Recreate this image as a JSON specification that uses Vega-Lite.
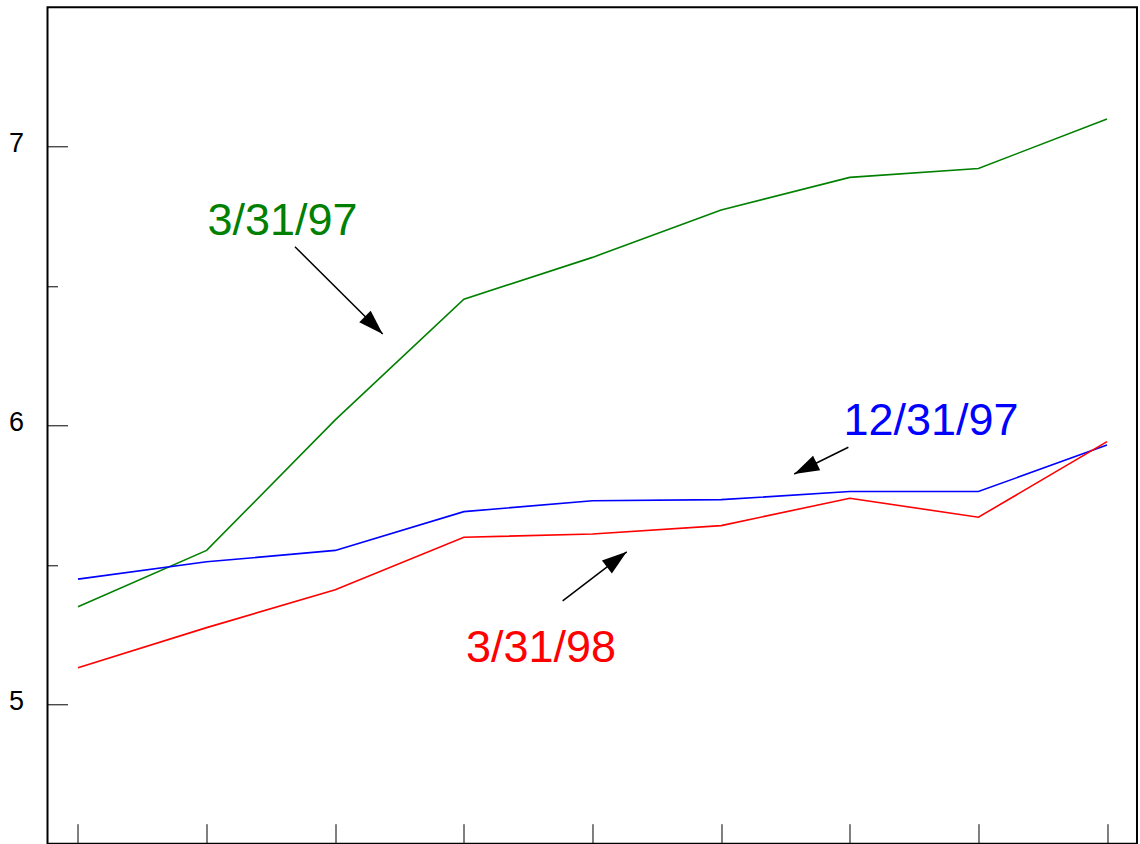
{
  "$schema": "https://vega.github.io/schema/vega-lite/v6.json",
  "autosize": {"type": "none"},
  "padding": {"left": 47.5, "top": 7.3, "right": 3, "bottom": 0},
  "width": 1089.5,
  "height": 836.4,
  "background": "white",
  "config": {
    "view": {"stroke": "black", "strokeWidth": 2},
    "font": "Liberation Sans"
  },
  "datasets": {
    "series": [
      {"i": 0, "v": 5.350, "s": "3/31/97"},
      {"i": 1, "v": 5.552, "s": "3/31/97"},
      {"i": 2, "v": 6.020, "s": "3/31/97"},
      {"i": 3, "v": 6.453, "s": "3/31/97"},
      {"i": 4, "v": 6.603, "s": "3/31/97"},
      {"i": 5, "v": 6.773, "s": "3/31/97"},
      {"i": 6, "v": 6.890, "s": "3/31/97"},
      {"i": 7, "v": 6.922, "s": "3/31/97"},
      {"i": 8, "v": 7.099, "s": "3/31/97"},
      {"i": 0, "v": 5.449, "s": "12/31/97"},
      {"i": 1, "v": 5.511, "s": "12/31/97"},
      {"i": 2, "v": 5.552, "s": "12/31/97"},
      {"i": 3, "v": 5.691, "s": "12/31/97"},
      {"i": 4, "v": 5.730, "s": "12/31/97"},
      {"i": 5, "v": 5.734, "s": "12/31/97"},
      {"i": 6, "v": 5.763, "s": "12/31/97"},
      {"i": 7, "v": 5.763, "s": "12/31/97"},
      {"i": 8, "v": 5.930, "s": "12/31/97"},
      {"i": 0, "v": 5.131, "s": "3/31/98"},
      {"i": 1, "v": 5.275, "s": "3/31/98"},
      {"i": 2, "v": 5.411, "s": "3/31/98"},
      {"i": 3, "v": 5.599, "s": "3/31/98"},
      {"i": 4, "v": 5.611, "s": "3/31/98"},
      {"i": 5, "v": 5.641, "s": "3/31/98"},
      {"i": 6, "v": 5.739, "s": "3/31/98"},
      {"i": 7, "v": 5.671, "s": "3/31/98"},
      {"i": 8, "v": 5.942, "s": "3/31/98"}
    ],
    "arrows": [
      {"s": "3/31/97", "x": 1.687, "y": 6.641, "x2": 2.369, "y2": 6.328},
      {"s": "12/31/97", "x": 5.989, "y": 5.922, "x2": 5.568, "y2": 5.826},
      {"s": "3/31/98", "x": 3.768, "y": 5.371, "x2": 4.266, "y2": 5.547}
    ],
    "labels": [
      {"s": "3/31/97", "x": 1.590, "y": 6.683},
      {"s": "12/31/97", "x": 6.632, "y": 5.966},
      {"s": "3/31/98", "x": 3.600, "y": 5.152}
    ]
  },
  "layer": [
    {
      "data": {"name": "series"},
      "mark": {"type": "line", "strokeWidth": 1.6},
      "encoding": {
        "x": {
          "field": "i", "type": "quantitative",
          "scale": {"domain": [-0.237, 8.233], "nice": false, "zero": false},
          "axis": {
            "values": [0, 1, 2, 3, 4, 5, 6, 7, 8],
            "labels": false, "title": null, "grid": false, "domain": false,
            "tickSize": -20, "tickColor": "black", "tickWidth": 1
          }
        },
        "y": {
          "field": "v", "type": "quantitative",
          "scale": {"domain": [4.5, 7.5], "nice": false, "zero": false},
          "axis": {
            "values": [5, 5.5, 6, 6.5, 7],
            "labelExpr": "datum.value % 1 === 0 ? format(datum.value, 'd') : ''",
            "title": null, "grid": false, "domain": false,
            "tickColor": "black", "tickWidth": 1,
            "tickSize": {"condition": {"test": "datum.value % 1 !== 0", "value": -10}, "value": -20},
            "labelFont": "Liberation Sans", "labelFontSize": 27, "labelColor": "black",
            "labelPadding": 44, "labelOffset": -3
          }
        },
        "color": {
          "field": "s", "type": "nominal",
          "scale": {"domain": ["3/31/97", "12/31/97", "3/31/98"], "range": ["#008000", "#0000ff", "#ff0000"]},
          "legend": null
        },
        "detail": {"field": "s"}
      }
    },
    {
      "data": {"name": "arrows"},
      "mark": {"type": "rule", "color": "black", "strokeWidth": 1.5},
      "encoding": {
        "x": {"field": "x", "type": "quantitative"},
        "y": {"field": "y", "type": "quantitative"},
        "x2": {"field": "x2"},
        "y2": {"field": "y2"}
      }
    },
    {
      "data": {"name": "arrows"},
      "transform": [{"filter": "datum.s === '3/31/97'"}],
      "mark": {"type": "point", "shape": "M0,0L0.65,2L-0.65,2Z", "filled": true, "color": "black", "opacity": 1, "size": 625, "angle": 134.8},
      "encoding": {
        "x": {"field": "x2", "type": "quantitative"},
        "y": {"field": "y2", "type": "quantitative"}
      }
    },
    {
      "data": {"name": "arrows"},
      "transform": [{"filter": "datum.s === '12/31/97'"}],
      "mark": {"type": "point", "shape": "M0,0L0.65,2L-0.65,2Z", "filled": true, "color": "black", "opacity": 1, "size": 625, "angle": 243.8},
      "encoding": {
        "x": {"field": "x2", "type": "quantitative"},
        "y": {"field": "y2", "type": "quantitative"}
      }
    },
    {
      "data": {"name": "arrows"},
      "transform": [{"filter": "datum.s === '3/31/98'"}],
      "mark": {"type": "point", "shape": "M0,0L0.65,2L-0.65,2Z", "filled": true, "color": "black", "opacity": 1, "size": 625, "angle": 52.4},
      "encoding": {
        "x": {"field": "x2", "type": "quantitative"},
        "y": {"field": "y2", "type": "quantitative"}
      }
    },
    {
      "data": {"name": "labels"},
      "mark": {"type": "text", "font": "Liberation Sans", "fontSize": 45, "align": "center", "baseline": "alphabetic"},
      "encoding": {
        "x": {"field": "x", "type": "quantitative"},
        "y": {"field": "y", "type": "quantitative"},
        "text": {"field": "s"},
        "color": {"field": "s", "type": "nominal", "legend": null}
      }
    }
  ]
}
